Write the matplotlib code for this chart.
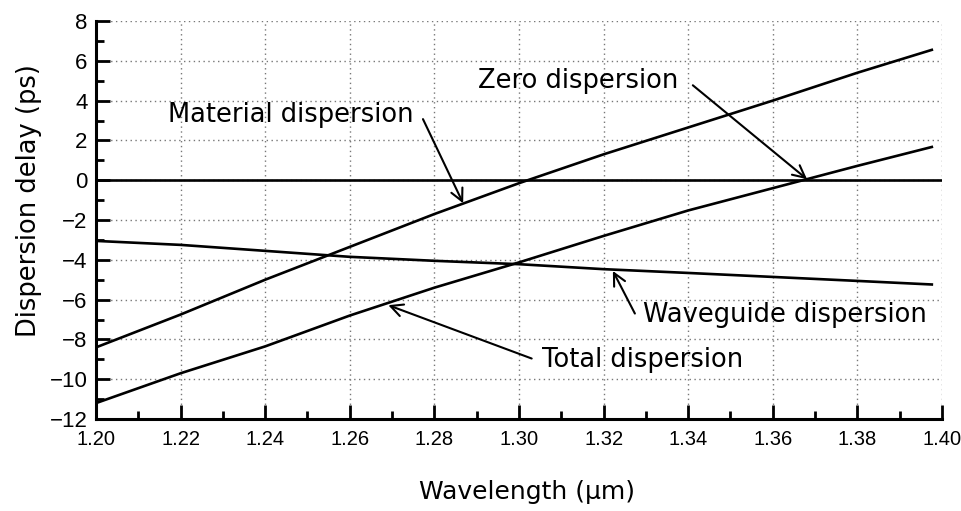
import numpy as np
import matplotlib
matplotlib.use("Agg")
from matplotlib import pyplot as plt

# wavelength samples (um)
wavelength = [1.20, 1.22, 1.24, 1.26, 1.28, 1.30, 1.32, 1.34, 1.36, 1.38, 1.3976]

# dispersion delay (ps)
material = [-8.4, -6.75, -5.0, -3.35, -1.7, -0.15, 1.3, 2.65, 4.0, 5.4, 6.55]
waveguide = [-3.05, -3.25, -3.55, -3.85, -4.05, -4.22, -4.47, -4.66, -4.86, -5.06, -5.24]
total = [-11.2, -9.7, -8.35, -6.8, -5.4, -4.13, -2.8, -1.52, -0.4, 0.72, 1.67]

x_ticks = [1.20, 1.22, 1.24, 1.26, 1.28, 1.30, 1.32, 1.34, 1.36, 1.38, 1.40]
y_ticks = [-12, -10, -8, -6, -4, -2, 0, 2, 4, 6, 8]

plt.rcParams['font.family'] = ['DejaVu Sans']

fig = plt.figure(figsize=(9.61, 5.11), dpi=100)
ax = fig.add_axes([0.0999, 0.18, 0.8803, 0.7789])

lw = 1.9
ax.axhline(0, color='black', lw=lw, zorder=3)
ax.plot(wavelength, material, '-', color='black', lw=lw, zorder=3)
ax.plot(wavelength, waveguide, '-', color='black', lw=lw, zorder=3)
ax.plot(wavelength, total, '-', color='black', lw=lw, zorder=3)

ax.set_xlim(1.20, 1.40)
ax.set_ylim(-12, 8)
ax.set_xticks(x_ticks)
ax.set_xticklabels(["{:.2f}".format(v) for v in x_ticks])
ax.set_yticks(y_ticks)
ax.set_xticks(np.arange(1.21, 1.40, 0.02), minor=True)
ax.set_yticks(np.arange(-11, 8, 2), minor=True)
for lab in ax.get_xticklabels() + ax.get_yticklabels():
    lab.set_family(['Liberation Sans', 'DejaVu Sans'])

ax.grid(True, which='major', linestyle=(0, (1, 2.5)), color='#777777', lw=1.0)
ax.spines['top'].set_visible(False)
ax.spines['right'].set_visible(False)
ax.spines['left'].set_linewidth(2.2)
ax.spines['bottom'].set_linewidth(2.2)
ax.tick_params(which='major', direction='in', length=10, width=2, pad=8)
ax.tick_params(which='minor', direction='in', length=6, width=2)
ax.tick_params(axis='x', labelsize=14.5)
ax.tick_params(axis='y', labelsize=16, pad=6)

ax.set_xlabel("Wavelength (\u03bcm)", fontsize=18)
ax.set_ylabel("Dispersion delay (ps)", fontsize=18.5)
ax.xaxis.set_label_coords(0.51, -0.153)
ax.yaxis.set_label_coords(-0.064, 0.55)

#labels and arrows
fs = 18.5
ax.text(1.217, 3.27, "Material dispersion", fontsize=fs, ha='left', va='center')
ax.text(1.2903, 4.97, "Zero dispersion", fontsize=fs, ha='left', va='center')
ax.text(1.3293, -6.78, "Waveguide dispersion", fontsize=fs, ha='left', va='center')
ax.text(1.3054, -9.05, "Total dispersion", fontsize=fs, ha='left', va='center')

arrow = dict(arrowstyle='->', lw=1.5, color='black', shrinkA=0, shrinkB=0, mutation_scale=22)
ax.annotate("", xy=(1.2868, -1.16), xytext=(1.2773, 3.07), arrowprops=arrow)
ax.annotate("", xy=(1.3681, 0.05), xytext=(1.3411, 4.77), arrowprops=arrow)
ax.annotate("", xy=(1.3222, -4.56), xytext=(1.3274, -6.7), arrowprops=arrow)
ax.annotate("", xy=(1.2691, -6.28), xytext=(1.303, -8.96), arrowprops=arrow)

plt.savefig("out.png", dpi=100)
